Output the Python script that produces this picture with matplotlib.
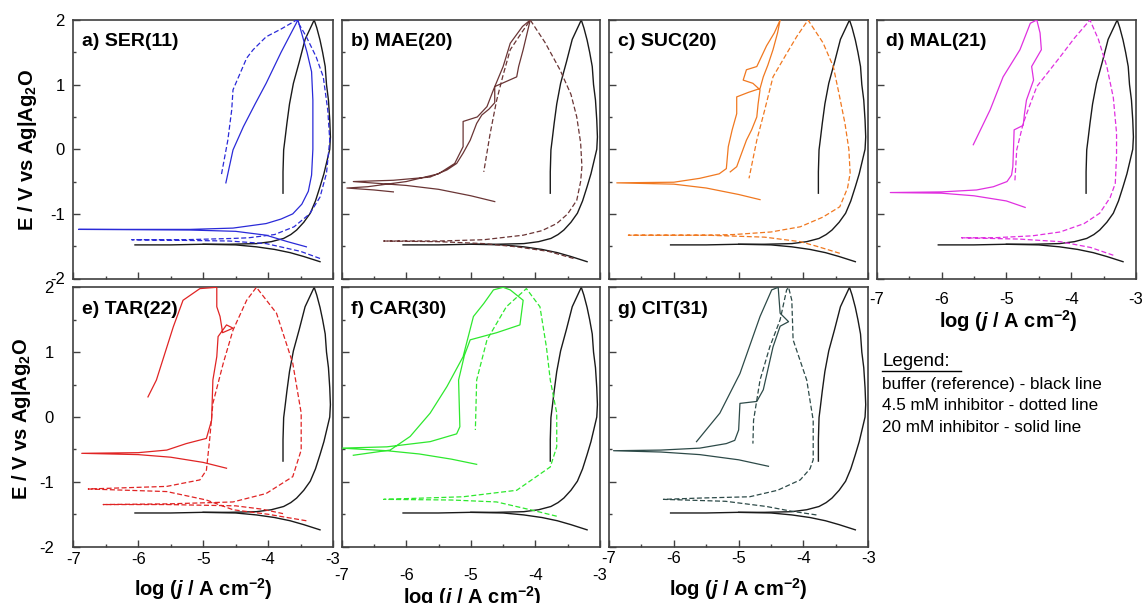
import matplotlib
matplotlib.use('Agg')
import matplotlib.pyplot as plt
from matplotlib.lines import Line2D
from matplotlib.ticker import MultipleLocator

plt.rcParams['font.family'] = ['Liberation Sans', 'DejaVu Sans']
plt.rcParams['mathtext.fontset'] = 'custom'
plt.rcParams['mathtext.rm'] = 'Liberation Sans:bold'
plt.rcParams['mathtext.bf'] = 'Liberation Sans:bold'
plt.rcParams['mathtext.it'] = 'Liberation Sans:italic:bold'
plt.rcParams['axes.unicode_minus'] = False

# ---------------- data (log j, E) ----------------
x_ticks = [-7, -6, -5, -4, -3]
y_ticks = [-2, -1, 0, 1, 2]
panel_labels = ['a) SER(11)', 'b) MAE(20)', 'c) SUC(20)', 'd) MAL(21)',
                'e) TAR(22)', 'f) CAR(30)', 'g) CIT(31)']
panel_colors = ['#2a2ad8', '#6a3535', '#f07820', '#e030e0',
                '#e02424', '#2ee82e', '#2d4a48']

# buffer reference (black) - anodic loop and cathodic branch
ref_x = [-6.05, -5.5, -5.0, -4.6, -4.18, -3.95, -3.76, -3.65, -3.56, -3.45, -3.35,
         -3.27, -3.2, -3.14, -3.09, -3.05, -3.04, -3.05, -3.07, -3.1, -3.12, -3.16,
         -3.2, -3.25, -3.29, -3.36, -3.43, -3.52, -3.61, -3.67, -3.71, -3.74, -3.76,
         -3.77, -3.77]
ref_y = [-1.48, -1.48, -1.47, -1.47, -1.46, -1.43, -1.38, -1.32, -1.25, -1.13, -0.99,
         -0.8, -0.58, -0.38, -0.17, 0.0, 0.19, 0.45, 0.76, 1.0, 1.28, 1.5,
         1.69, 1.88, 2.0, 1.85, 1.7, 1.35, 1.02, 0.7, 0.4, 0.15, -0.01,
         -0.35, -0.68]
ref_cat_x = [-5.0, -4.5, -4.18, -3.9, -3.66, -3.45, -3.2]
ref_cat_y = [-1.47, -1.48, -1.51, -1.55, -1.6, -1.66, -1.74]

# a) SER
ser20_x = [-3.41, -3.7, -4.03, -4.5, -5.2, -6.0, -6.92, -6.0, -5.2, -4.54, -4.03, -3.8,
           -3.62, -3.48, -3.38, -3.33, -3.31, -3.31, -3.33, -3.4, -3.47, -3.54, -3.8,
           -4.03, -4.2, -4.38, -4.54, -4.65]
ser20_y = [-1.51, -1.43, -1.33, -1.27, -1.25, -1.245, -1.24, -1.24, -1.24, -1.22, -1.15,
           -1.08, -1.0, -0.85, -0.65, -0.4, 0.0, 0.76, 1.2, 1.5, 1.75, 2.0, 1.5,
           1.02, 0.7, 0.35, -0.01, -0.52]
ser45_x = [-3.2, -3.5, -4.03, -4.6, -5.3, -6.1, -5.3, -4.54, -4.3, -3.9, -3.6, -3.36,
           -3.2, -3.1, -3.05, -3.08, -3.15, -3.26, -3.41, -3.56, -3.8, -4.03, -4.23,
           -4.33, -4.54, -4.56, -4.62, -4.72]
ser45_y = [-1.69, -1.58, -1.46, -1.42, -1.41, -1.40, -1.40, -1.38, -1.37, -1.32, -1.2, -1.0,
           -0.74, -0.37, 0.14, 0.6, 1.12, 1.43, 1.74, 2.0, 1.86, 1.74, 1.54,
           1.41, 0.92, 0.61, 0.14, -0.4]

# b) MAE
mae20_x = [-4.63, -5.0, -5.5, -6.0, -6.82, -6.2, -5.63, -5.37, -5.22, -5.12, -5.01,
           -4.91, -4.83, -4.72, -4.63, -4.63, -4.29, -4.26, -4.19, -4.08, -4.2, -4.39,
           -4.5, -4.65, -4.75, -4.9, -5.12, -5.12, -5.25, -5.5, -6.0, -6.6, -6.92,
           -6.5, -6.2]
mae20_y = [-0.81, -0.72, -0.62, -0.56, -0.5, -0.48, -0.43, -0.32, -0.22, -0.06, 0.14,
           0.40, 0.53, 0.62, 0.72, 0.97, 1.12, 1.28, 1.54, 2.0, 1.9, 1.64,
           1.28, 0.92, 0.66, 0.5, 0.43, 0.04, -0.22, -0.38, -0.5, -0.58, -0.6,
           -0.63, -0.66]
mae45_x = [-3.41, -3.8, -4.29, -4.8, -5.5, -6.35, -5.5, -4.8, -4.19, -3.9, -3.67, -3.5,
           -3.36, -3.3, -3.28, -3.3, -3.36, -3.45, -3.62, -3.85, -4.08, -4.25, -4.39,
           -4.5, -4.6, -4.7, -4.8]
mae45_y = [-1.69, -1.58, -1.51, -1.46, -1.43, -1.42, -1.42, -1.4, -1.33, -1.26, -1.15, -1.0,
           -0.79, -0.5, -0.27, 0.1, 0.5, 0.85, 1.23, 1.65, 2.0, 1.75, 1.54,
           1.15, 0.76, 0.25, -0.35]

# c) SUC
suc20_x = [-4.67, -5.0, -5.5, -6.0, -6.88, -6.0, -5.6, -5.3, -5.19, -5.16, -5.1, -5.03,
           -5.03, -4.85, -4.67, -4.62, -4.55, -4.47, -4.4, -4.36, -4.45, -4.57, -4.72,
           -4.88, -4.93, -4.78, -4.67, -4.7, -4.72, -4.8, -4.88, -4.95, -5.03, -5.13]
suc20_y = [-0.78, -0.7, -0.6, -0.54, -0.52, -0.51, -0.45, -0.38, -0.3, 0.04, 0.3, 0.55,
           0.81, 0.88, 0.94, 1.12, 1.3, 1.54, 1.8, 2.0, 1.8, 1.6, 1.28,
           1.23, 1.07, 1.02, 0.92, 0.7, 0.5, 0.3, 0.14, -0.05, -0.27, -0.35]
suc45_x = [-3.44, -3.8, -4.05, -4.6, -5.5, -6.7, -5.5, -5.08, -4.5, -4.05, -3.7, -3.44,
           -3.32, -3.28, -3.3, -3.36, -3.45, -3.54, -3.7, -3.93, -4.1, -4.26, -4.47,
           -4.6, -4.72, -4.84]
suc45_y = [-1.61, -1.5, -1.43, -1.36, -1.33, -1.33, -1.33, -1.32, -1.28, -1.2, -1.05, -0.89,
           -0.6, -0.37, 0.0, 0.4, 0.85, 1.28, 1.65, 2.0, 1.75, 1.48, 1.12,
           0.6, 0.14, -0.45]

# d) MAL
mal20_x = [-4.71, -5.0, -5.5, -6.0, -6.79, -6.0, -5.46, -5.2, -4.99, -4.92, -4.9, -4.89,
           -4.88, -4.74, -4.72, -4.69, -4.58, -4.61, -4.46, -4.48, -4.53, -4.63, -4.79,
           -5.05, -5.25, -5.51]
mal20_y = [-0.9, -0.8, -0.72, -0.68, -0.67, -0.66, -0.63, -0.58, -0.5, -0.4, -0.27, 0.0,
           0.3, 0.37, 0.55, 0.76, 1.07, 1.28, 1.54, 1.8, 2.0, 1.95, 1.54,
           1.12, 0.61, 0.07]
mal45_x = [-3.35, -3.7, -4.17, -4.8, -5.69, -5.2, -4.6, -4.17, -3.8, -3.56, -3.4, -3.32,
           -3.3, -3.3, -3.35, -3.45, -3.58, -3.71, -3.95, -4.17, -4.35, -4.53, -4.65,
           -4.74, -4.84, -4.87]
mal45_y = [-1.64, -1.52, -1.43, -1.39, -1.37, -1.37, -1.34, -1.28, -1.15, -0.99, -0.75, -0.53,
           -0.1, 0.25, 0.8, 1.28, 1.7, 2.0, 1.72, 1.43, 1.2, 0.97, 0.65,
           0.4, -0.01, -0.52]

# e) TAR
tar20_x = [-4.64, -5.0, -5.5, -6.0, -6.87, -6.0, -5.56, -5.26, -4.95, -4.87, -4.85, -4.79,
           -4.77, -4.64, -4.54, -4.7, -4.74, -4.79, -4.79, -5.05, -5.31, -5.46, -5.72,
           -5.85]
tar20_y = [-0.79, -0.7, -0.62, -0.58, -0.56, -0.55, -0.51, -0.41, -0.33, -0.05, 0.57, 0.93,
           1.24, 1.42, 1.37, 1.3, 1.55, 1.7, 2.0, 1.98, 1.8, 1.39, 0.57,
           0.31]
tar45_x = [-3.41, -4.0, -4.54, -4.95, -5.56, -6.77, -5.56, -5.05, -4.95, -4.9, -4.85, -4.69,
           -4.54, -4.33, -4.18, -3.87, -3.62, -3.49, -3.49, -3.62, -4.03, -4.54, -5.56,
           -6.54, -5.56, -4.5, -4.1, -3.77]
tar45_y = [-1.6, -1.5, -1.43, -1.28, -1.15, -1.11, -1.07, -0.97, -0.82, -0.35, 0.21, 0.83,
           1.34, 1.8, 2.0, 1.6, 0.83, 0.06, -0.51, -0.92, -1.18, -1.31, -1.34,
           -1.35, -1.35, -1.37, -1.42, -1.49]

# f) CAR
car20_x = [-4.91, -5.3, -5.8, -6.3, -7.0, -6.3, -5.63, -5.22, -5.17, -5.19, -5.1, -5.01,
           -4.6, -4.24, -4.19, -4.39, -4.5, -4.65, -4.8, -4.96, -5.12, -5.37, -5.63,
           -5.94, -6.25, -6.82]
car20_y = [-0.73, -0.65, -0.57, -0.52, -0.48, -0.46, -0.38, -0.26, -0.15, 0.57, 0.95, 1.19,
           1.3, 1.42, 1.8, 1.96, 2.0, 1.96, 1.75, 1.55, 0.93, 0.47, 0.06,
           -0.3, -0.51, -0.59]
car45_x = [-3.67, -4.08, -4.6, -5.3, -6.35, -5.12, -4.29, -3.77, -3.67, -3.67, -3.77, -3.83,
           -3.93, -4.14, -4.45, -4.75, -4.91, -4.93]
car45_y = [-1.53, -1.43, -1.31, -1.28, -1.27, -1.23, -1.13, -0.77, -0.46, 0.06, 0.57, 1.08,
           1.7, 1.98, 1.7, 1.19, 0.57, -0.2]

# g) CIT
cit20_x = [-4.54, -5.0, -5.6, -6.2, -6.93, -6.2, -5.6, -5.19, -5.06, -5.0, -4.98, -4.72,
           -4.62, -4.47, -4.36, -4.23, -4.36, -4.39, -4.49, -4.67, -4.98, -5.29, -5.65]
cit20_y = [-0.76, -0.66, -0.58, -0.54, -0.52, -0.51, -0.48, -0.41, -0.36, -0.2, 0.21, 0.24,
           0.42, 1.08, 1.4, 1.47, 1.6, 2.0, 1.96, 1.55, 0.67, 0.06, -0.38]
cit45_x = [-3.8, -4.2, -4.57, -5.2, -6.16, -5.6, -4.83, -4.4, -4.05, -3.9, -3.85, -3.85,
           -3.95, -4.16, -4.18, -4.23, -4.26, -4.36, -4.52, -4.67, -4.77, -4.78]
cit45_y = [-1.51, -1.45, -1.38, -1.3, -1.27, -1.25, -1.23, -1.13, -0.97, -0.8, -0.66, -0.05,
           0.57, 1.19, 1.8, 2.0, 1.96, 1.5, 1.08, 0.57, -0.05, -0.41]

legend_title = 'Legend:'
legend_lines = ['buffer (reference) - black line',
                '4.5 mM inhibitor - dotted line',
                '20 mM inhibitor - solid line']

# ---------------- figure ----------------
W, H = 1146, 603
fig = plt.figure(figsize=(W / 100, H / 100), dpi=100)


def add_ax(x0, y0, x1, y1):
    return fig.add_axes([x0 / W, 1 - y1 / H, (x1 - x0) / W, (y1 - y0) / H])


rects = [(73.3, 20, 333, 278.5), (341.7, 20, 600, 278.5), (609, 20, 868.3, 278.5),
         (876.7, 20, 1136, 278.5), (73.3, 287.3, 333, 546.7), (341.7, 287.3, 600, 546.7),
         (609, 287.3, 868.3, 546.7)]
curves = [(ser45_x, ser45_y, ser20_x, ser20_y), (mae45_x, mae45_y, mae20_x, mae20_y),
          (suc45_x, suc45_y, suc20_x, suc20_y), (mal45_x, mal45_y, mal20_x, mal20_y),
          (tar45_x, tar45_y, tar20_x, tar20_y), (car45_x, car45_y, car20_x, car20_y),
          (cit45_x, cit45_y, cit20_x, cit20_y)]
# (show x labels, x pad, show y labels, y pad)
tick_cfg = [(False, 4, True, 6), (False, 4, False, 6), (False, 4, False, 6),
            (True, 10, False, 6), (True, 3.5, True, 14), (True, 15, False, 6),
            (True, 3, False, 6)]

for i, (r, c, tc) in enumerate(zip(rects, curves, tick_cfg)):
    ax = add_ax(*r)
    col = panel_colors[i]
    ax.plot(ref_x, ref_y, color='#1a1a1a', lw=1.0, zorder=2)
    ax.plot(ref_cat_x, ref_cat_y, color='#1a1a1a', lw=1.0, zorder=2)
    ax.plot(c[0], c[1], color=col, lw=0.9, linestyle=(0, (4, 2)), zorder=3)
    ax.plot(c[2], c[3], color=col, lw=0.9, zorder=3)
    ax.set_xlim(-7, -3)
    ax.set_ylim(-2, 2)
    ax.set_xticks(x_ticks)
    ax.set_yticks(y_ticks)
    ax.xaxis.set_minor_locator(MultipleLocator(0.5))
    ax.yaxis.set_minor_locator(MultipleLocator(0.5))
    ax.tick_params(which='both', direction='in', top=False, right=False,
                   labelsize=12, color='#404040')
    ax.tick_params(which='major', length=5, width=1)
    ax.tick_params(which='minor', length=2.5, width=1)
    ax.tick_params(axis='x', labelbottom=tc[0], pad=tc[1])
    ax.tick_params(axis='y', labelleft=tc[2], pad=tc[3])
    for s in ax.spines.values():
        s.set_linewidth(1.2)
        s.set_color('#404040')
    ax.text(0.035, 0.915, panel_labels[i], transform=ax.transAxes, fontsize=14,
            fontweight='bold', va='center', ha='left', zorder=5)

xl = 'log ($\\mathit{j}$ / A cm$^{-2}$)'
yl = 'E / V vs Ag|Ag$_2$O'
for (px, py) in [(1008, 321), (203, 589), (738, 589), (472, 597)]:
    fig.text(px / W, 1 - py / H, xl, fontsize=14.5, fontweight='bold',
             ha='center', va='center')
for (px, py) in [(28, 150), (22, 419)]:
    fig.text(px / W, 1 - py / H, yl, fontsize=14.5, fontweight='bold',
             ha='center', va='center', rotation=90)

# legend block
fig.text(882 / W, 1 - 362 / H, legend_title, fontsize=13.5, ha='left', va='center')
fig.add_artist(Line2D([882 / W, 961 / W], [1 - 371 / H, 1 - 371 / H],
                      color='black', lw=1.0, transform=fig.transFigure))
for k, t in enumerate(legend_lines):
    fig.text(882 / W, 1 - (385 + 21 * k) / H, t, fontsize=12.3, ha='left', va='center')

fig.savefig('out.png', dpi=100)
